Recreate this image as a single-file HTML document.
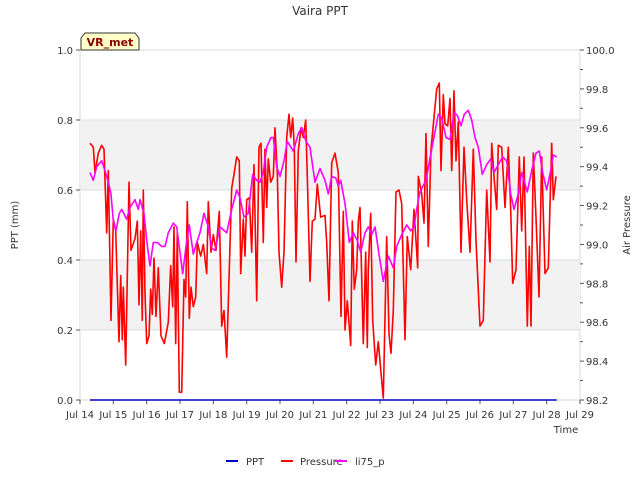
<!DOCTYPE html>
<html><head><meta charset="utf-8"><style>
body{margin:0;background:#fff;font-family:"Liberation Sans","DejaVu Sans",sans-serif}
svg text{font-family:"DejaVu Sans","Liberation Sans",sans-serif}
</style></head><body>
<svg id="c" width="640" height="480" viewBox="0 0 640 480" xmlns="http://www.w3.org/2000/svg">
<text x="320" y="15" text-anchor="middle" font-size="12" fill="#333">Vaira PPT</text>
<text transform="translate(18,225) rotate(-90)" text-anchor="middle" font-size="10" fill="#333">PPT (mm)</text>
<text transform="translate(630,225) rotate(-90)" text-anchor="middle" font-size="10" fill="#333">Air Pressure</text>
<text x="566" y="433" text-anchor="middle" font-size="10" fill="#333">Time</text>
<g id="plot"></g>
<g>
<path d="M81,50 L81,38 L85,33 L135,33 L139,38 L139,50 Z" fill="#ffffc8" stroke="#333" stroke-width="1"/>
<text x="110" y="46" text-anchor="middle" font-size="11" font-weight="bold" fill="#8b0000">VR_met</text>
</g>
<g>
<g><line x1="226" y1="461" x2="238" y2="461" stroke="#0000cc" stroke-width="2"/><text x="246" y="465" font-size="10" fill="#333">PPT</text></g>
<g><line x1="281" y1="461" x2="293" y2="461" stroke="#ff0000" stroke-width="2"/><text x="300" y="465" font-size="10" fill="#333">Pressure</text></g>
<g><line x1="335" y1="461" x2="347" y2="461" stroke="#ff00ff" stroke-width="2"/><text x="355" y="465" font-size="10" fill="#333">li75_p</text></g>
</g>
</svg>
<script>
const xTickLabels=["Jul 14","Jul 15","Jul 16","Jul 17","Jul 18","Jul 19","Jul 20","Jul 21","Jul 22","Jul 23","Jul 24","Jul 25","Jul 26","Jul 27","Jul 28","Jul 29"];
const yTicks=[0,0.2,0.4,0.6,0.8,1.0];
const y2Ticks=[98.2,98.4,98.6,98.8,99.0,99.2,99.4,99.6,99.8,100.0];
const pptDays=[0.3,14.3];
const pptVals=[0,0];
const presDays=[0.30,0.40,0.45,0.55,0.65,0.72,0.80,0.85,0.93,1.00,1.07,1.17,1.22,1.27,1.30,1.37,1.47,1.53,1.65,1.72,1.77,1.82,1.87,1.90,1.95,2.00,2.07,2.12,2.17,2.22,2.28,2.35,2.43,2.53,2.65,2.72,2.78,2.82,2.87,2.92,2.98,3.05,3.12,3.17,3.22,3.28,3.33,3.40,3.47,3.52,3.62,3.70,3.80,3.85,3.93,4.00,4.08,4.18,4.25,4.32,4.40,4.47,4.55,4.63,4.70,4.78,4.82,4.90,4.95,5.00,5.08,5.15,5.22,5.30,5.37,5.43,5.50,5.55,5.60,5.65,5.72,5.80,5.85,5.92,5.97,6.05,6.12,6.20,6.27,6.32,6.38,6.43,6.48,6.55,6.63,6.70,6.77,6.82,6.90,6.97,7.05,7.12,7.22,7.35,7.40,7.47,7.55,7.65,7.75,7.83,7.90,7.95,8.02,8.12,8.17,8.23,8.30,8.35,8.40,8.50,8.57,8.62,8.65,8.72,8.78,8.87,8.95,9.03,9.10,9.20,9.27,9.33,9.40,9.48,9.57,9.65,9.75,9.82,9.92,10.02,10.13,10.15,10.25,10.32,10.38,10.45,10.53,10.70,10.78,10.83,10.90,10.95,11.03,11.10,11.15,11.22,11.28,11.35,11.43,11.52,11.60,11.70,11.80,11.88,12.00,12.10,12.20,12.30,12.35,12.43,12.50,12.55,12.65,12.75,12.85,12.92,12.98,13.08,13.18,13.25,13.32,13.42,13.48,13.53,13.60,13.68,13.77,13.85,13.95,14.05,14.15,14.20,14.28];
const presVals=[99.52,99.50,99.37,99.47,99.51,99.49,99.06,99.38,98.61,99.13,99.07,98.50,98.84,98.51,98.78,98.38,99.32,98.97,99.03,99.12,98.69,99.07,98.61,99.28,98.75,98.49,98.53,98.77,98.64,98.93,98.63,98.88,98.53,98.49,98.60,98.89,98.68,99.09,98.49,99.06,98.24,98.24,98.82,98.73,99.22,98.62,98.78,98.68,98.73,99.01,98.94,99.00,98.85,99.22,98.96,99.05,98.97,99.17,98.58,98.66,98.42,98.82,99.29,99.37,99.45,99.43,98.85,99.13,98.94,99.23,99.24,98.96,99.41,98.71,99.50,99.52,99.01,99.49,99.19,99.44,99.32,99.35,99.60,99.37,98.96,98.78,98.96,99.55,99.67,99.55,99.65,99.50,98.91,99.48,99.60,99.55,99.64,99.35,98.81,99.12,99.13,99.31,99.14,99.15,99.01,98.71,99.42,99.47,99.37,98.63,99.17,98.56,98.71,98.48,99.12,98.77,98.87,99.12,99.19,98.49,98.96,98.47,98.87,99.16,98.61,98.38,98.50,98.34,98.21,99.04,98.54,98.44,98.66,99.27,99.28,99.21,98.51,99.04,98.87,99.18,98.88,99.35,99.26,99.11,99.57,98.99,99.49,99.80,99.83,99.38,99.77,99.62,99.61,99.75,99.38,99.79,99.43,99.63,98.96,99.50,99.23,98.96,99.49,99.02,98.58,98.61,99.28,98.91,99.52,99.33,99.18,99.51,99.50,99.19,99.50,99.18,98.80,98.87,99.45,99.07,99.45,98.58,98.99,98.58,99.47,99.14,98.73,99.45,98.85,98.88,99.52,99.23,99.35];
const liDays=[0.30,0.40,0.50,0.65,0.75,0.85,0.93,1.00,1.08,1.18,1.25,1.40,1.50,1.65,1.75,1.80,1.92,2.00,2.10,2.20,2.32,2.45,2.55,2.65,2.80,2.90,3.00,3.08,3.18,3.28,3.40,3.50,3.60,3.72,3.85,3.95,4.05,4.20,4.40,4.55,4.70,4.80,4.92,5.05,5.18,5.30,5.40,5.50,5.60,5.73,5.80,5.90,6.00,6.12,6.22,6.40,6.55,6.65,6.78,6.90,7.05,7.20,7.35,7.45,7.55,7.68,7.75,7.82,7.95,8.08,8.20,8.32,8.42,8.55,8.65,8.75,8.85,8.98,9.10,9.25,9.40,9.50,9.65,9.80,9.92,10.02,10.10,10.20,10.38,10.55,10.75,10.85,10.98,11.10,11.23,11.33,11.43,11.53,11.65,11.75,11.85,11.95,12.07,12.20,12.32,12.42,12.55,12.68,12.80,12.92,13.02,13.15,13.25,13.42,13.55,13.68,13.78,13.88,14.00,14.12,14.20,14.30];
const liVals=[99.37,99.33,99.40,99.43,99.38,99.32,99.26,99.12,99.07,99.16,99.18,99.13,99.19,99.23,99.18,99.23,99.16,99.02,98.89,99.01,99.01,98.99,98.99,99.06,99.11,99.09,98.96,98.85,98.99,99.10,98.95,99.01,99.06,99.16,99.09,98.98,98.97,99.09,99.06,99.18,99.28,99.24,99.14,99.16,99.36,99.33,99.32,99.37,99.50,99.55,99.55,99.40,99.35,99.43,99.53,99.48,99.57,99.60,99.53,99.50,99.32,99.39,99.33,99.26,99.35,99.34,99.30,99.33,99.21,99.01,99.06,99.02,98.96,99.06,99.09,99.05,99.09,98.94,98.81,98.94,98.88,98.99,99.05,99.10,99.07,99.09,99.18,99.27,99.33,99.49,99.67,99.65,99.55,99.54,99.68,99.66,99.61,99.67,99.69,99.64,99.55,99.50,99.36,99.41,99.44,99.37,99.41,99.45,99.43,99.26,99.18,99.26,99.37,99.27,99.38,99.47,99.48,99.37,99.28,99.38,99.46,99.45];

const L=80,R=580,T=50,B=400,NS="http://www.w3.org/2000/svg";
const xs=d=>L+d*(R-L)/15;
const ys=v=>B-v*(B-T);
const y2s=p=>B-(p-98.2)*(B-T)/1.8;
const g=document.getElementById('plot');
function mk(tag,attrs,parent){const e=document.createElementNS(NS,tag);for(const k in attrs)e.setAttribute(k,attrs[k]);(parent||g).appendChild(e);return e;}

const bg=mk('g',{});


mk('rect',{x:L,y:T,width:R-L,height:B-T,fill:'#fff',stroke:'#d8d8d8'},bg);
[[0.2,0.4],[0.6,0.8]].forEach(b=>{mk('rect',{x:L,y:ys(b[1]),width:R-L,height:ys(b[0])-ys(b[1]),fill:'#f2f2f2'},bg);});
yTicks.forEach(v=>{if(v>0&&v<1)mk('line',{x1:L,x2:R,y1:ys(v),y2:ys(v),stroke:'#dcdcdc'},bg);});

const ax=mk('g',{});


yTicks.forEach(v=>{mk('line',{x1:L-4,x2:L,y1:ys(v),y2:ys(v),stroke:'#555'},ax);
 const t=mk('text',{x:L-7,y:ys(v)+4,'text-anchor':'end','font-size':10,fill:'#333'},ax);t.textContent=v.toFixed(1);});
y2Ticks.forEach(v=>{mk('line',{x1:R,x2:R+4,y1:y2s(v),y2:y2s(v),stroke:'#555'},ax);
 const t=mk('text',{x:R+6,y:y2s(v)+4,'font-size':10,fill:'#333'},ax);t.textContent=v.toFixed(1);});
for(let i=0;i<9;i++){const v=98.3+0.2*i;mk('line',{x1:R,x2:R+3,y1:y2s(v),y2:y2s(v),stroke:'#555'},ax);}
xTickLabels.forEach((s,i)=>{mk('line',{x1:xs(i),x2:xs(i),y1:B,y2:B+4,stroke:'#555'},ax);
 const t=mk('text',{x:xs(i),y:B+18,'text-anchor':'middle','font-size':10,fill:'#333'},ax);t.textContent=s;});

function line(days,vals,scale,color,w){return mk('polyline',{points:days.map((d,i)=>xs(d).toFixed(1)+','+scale(vals[i]).toFixed(1)).join(' '),fill:'none',stroke:color,'stroke-width':w,'stroke-linejoin':'round'});}
const pr=line(presDays,presVals,y2s,'#ff0000',1.6);


const li=line(liDays,liVals,y2s,'#ff00ff',1.6);


const pp=line(pptDays,pptVals,ys,'#0000cc',1.4);


</script>
</body></html>
